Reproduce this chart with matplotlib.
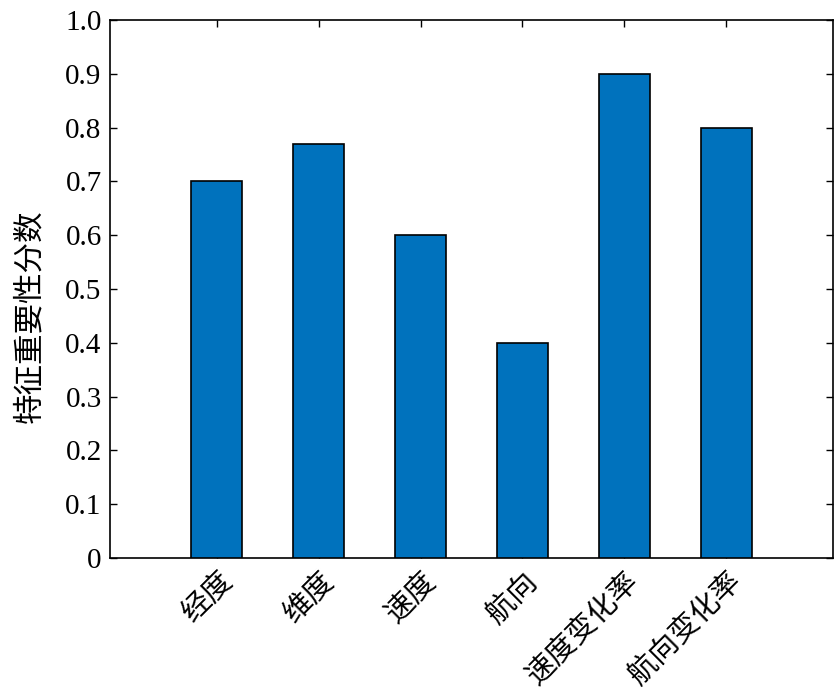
import matplotlib
matplotlib.use("Agg")
import matplotlib.pyplot as plt

categories = ["经度", "维度", "速度", "航向", "速度变化率", "航向变化率"]
values = [0.70, 0.77, 0.60, 0.40, 0.90, 0.80]
yticks = [0, 0.1, 0.2, 0.3, 0.4, 0.5, 0.6, 0.7, 0.8, 0.9, 1.0]
ytick_labels = ["0", "0.1", "0.2", "0.3", "0.4", "0.5", "0.6", "0.7", "0.8", "0.9", "1.0"]
ylabel = "特征重要性分数"

cjk = ["Noto Sans CJK SC", "DejaVu Sans"]
serif = ["Liberation Serif", "DejaVu Serif"]

fig = plt.figure(figsize=(8.4, 6.91), dpi=100)
ax = fig.add_axes([110/840, 1 - 558/691, (833-110)/840, (558-20)/691])

x = list(range(1, len(categories) + 1))
ax.bar(x, values, width=0.5, color="#0072BD", edgecolor="black", linewidth=1.2, zorder=3)

ax.set_xlim(-0.05, 7.05)
ax.set_ylim(0, 1.0)
ax.set_yticks(yticks)
ax.set_yticklabels(ytick_labels, fontfamily=serif, fontsize=21)
ax.set_xticks(x)
ax.set_xticklabels(categories, rotation=45, ha="right", va="top", rotation_mode="anchor",
                   fontfamily=cjk, fontsize=21, fontweight="light")
ax.set_ylabel(ylabel, fontfamily=cjk, fontsize=22, fontweight="light")
ax.yaxis.set_label_coords(-0.09, 0.45)

ax.tick_params(direction="in", length=5, width=1, top=True, right=True, pad=6, colors="black")
for s in ax.spines.values():
    s.set_linewidth(1.2)

fig.savefig("out.png", dpi=100)
